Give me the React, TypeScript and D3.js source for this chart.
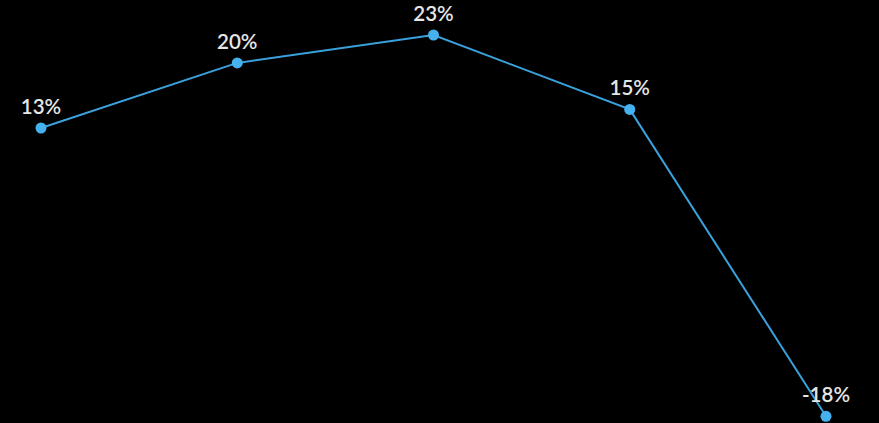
import React from "react";
import * as d3 from "d3";

const categories = ["A", "B", "C", "D", "E"];
const values = [13, 20, 23, 15, -18];
const labels = ["13%", "20%", "23%", "15%", "-18%"];

const W = 879;
const H = 423;

export default function App() {
  const x = d3.scalePoint<string>().domain(categories).range([41, 826]);
  const y = d3.scaleLinear().domain([-18, 23]).range([416.3, 35]);
  const line = d3
    .line<number>()
    .x((_, i) => x(categories[i]) as number)
    .y((d) => y(d));
  return (
    <svg
      width={W}
      height={H}
      style={{ position: "fixed", left: 0, top: 0, background: "#000", display: "block" }}
    >
      <rect width={W} height={H} fill="#000" />
      <path d={line(values) || ""} fill="none" stroke="#3aa1dc" strokeWidth={2} />
      {values.map((v, i) => (
        <circle key={i} cx={x(categories[i])} cy={y(v)} r={5.5} fill="#45b1ef" />
      ))}
      {values.map((v, i) => (
        <text
          key={"t" + i}
          x={x(categories[i])}
          y={y(v) - 14}
          textAnchor="middle"
          fill="#e6e6e6"
          fontFamily="Lato, sans-serif"
          fontWeight={600}
          fontSize={20.5}
        >
          {labels[i]}
        </text>
      ))}
    </svg>
  );
}
